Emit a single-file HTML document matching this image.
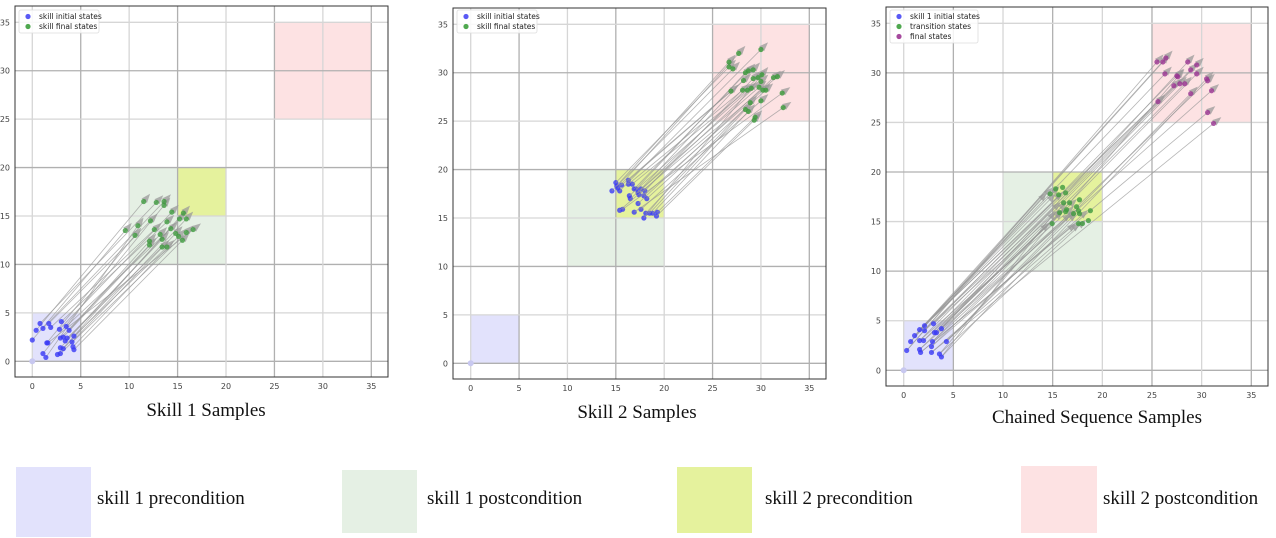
<!DOCTYPE html>
<html><head><meta charset="utf-8">
<style>
body{margin:0;background:#fff;width:1276px;height:538px;overflow:hidden;position:relative;font-family:"Liberation Serif",serif}
svg{position:absolute;left:0;top:0}
.title{position:absolute;font-size:19px;color:#111;white-space:nowrap;transform:translateX(-50%)}
.sw{position:absolute}
.lt{position:absolute;font-size:19px;color:#111;white-space:nowrap}
</style></head><body>
<svg id="chart" width="1276" height="400"></svg>
<div class="title" style="left:206px;top:400px">Skill 1 Samples</div>
<div class="title" style="left:637px;top:402px">Skill 2 Samples</div>
<div class="title" style="left:1097px;top:407px">Chained Sequence Samples</div>
<div class="sw" style="left:16px;top:467px;width:75px;height:70px;background:#e2e2fc"></div>
<div class="lt" style="left:97px;top:488px">skill 1 precondition</div>
<div class="sw" style="left:342px;top:470px;width:75px;height:63px;background:#e5f0e4"></div>
<div class="lt" style="left:427px;top:488px">skill 1 postcondition</div>
<div class="sw" style="left:677px;top:467px;width:75px;height:66px;background:#e5f29d"></div>
<div class="lt" style="left:765px;top:488px">skill 2 precondition</div>
<div class="sw" style="left:1021px;top:466px;width:76px;height:67px;background:#fde2e3"></div>
<div class="lt" style="left:1103px;top:488px">skill 2 postcondition</div>
<script>
// Panel 1 data
const p1InitX=[0,0.4,0.8,1.1,1.1,1.4,1.5,1.7,1.9,3.0,2.8,3.5,3.8,2.9,3.2,3.4,3.6,4.3,4.1,4.2,4.3,2.9,3.2,2.6,2.9,1.6];
const p1InitY=[2.2,3.2,3.9,3.4,0.8,0.4,1.9,3.9,3.5,4.1,3.3,3.6,3.2,2.4,2.5,2.1,2.4,2.6,2.0,1.5,1.2,1.4,1.3,0.7,0.8,1.9];
const p1FinX=[9.6,11.5,12.8,13.6,13.6,10.9,10.6,12.2,12.6,13.9,14.4,14.3,12.1,12.1,13.2,13.4,13.4,13.9,14.8,15.1,15.5,15.2,15.9,15.6,15.9,16.6];
const p1FinY=[13.5,16.5,16.4,16.5,16.1,14.0,13.0,14.5,13.6,14.4,15.4,13.7,12.4,12.0,13.1,12.6,11.8,11.8,13.2,12.9,12.5,14.7,14.7,15.3,13.3,13.6];
// Panel 2 data
const p2InitX=[14.6,15.0,15.1,15.2,15.4,15.6,16.3,16.3,16.7,17.1,16.9,17.6,18.0,17.3,17.4,16.4,16.5,17.9,18.2,17.3,15.4,15.7,16.9,17.6,18.1,18.5,18.8,19.3,19.2,17.9];
const p2InitY=[17.8,18.65,18.3,18.1,17.8,18.4,18.9,18.5,18.5,18.0,18.0,18.0,17.8,17.6,17.4,17.3,17.0,17.3,17.0,16.5,15.8,15.9,15.6,15.9,15.5,15.5,15.5,15.6,15.2,15.0];
const p2FinX=[26.7,26.7,27.1,27.7,30.0,26.9,28.2,28.1,28.6,28.4,28.7,29.2,29.2,29.7,30.0,29.0,29.8,30.2,30.5,31.3,31.7,32.2,32.3,30.0,28.9,28.4,28.7,29.4,29.3,30.1];
const p2FinY=[31.1,30.6,30.4,32.0,32.4,28.1,29.2,28.2,28.2,30.0,30.2,30.3,29.4,29.5,29.1,28.4,28.5,28.2,28.2,29.5,29.6,27.9,26.4,27.1,26.9,26.2,26.0,25.4,25.1,29.8];
// Panel 3 data
const p3InitX=[0.3,0.7,1.1,1.6,2.1,2.1,3.0,3.1,3.3,3.8,1.6,2.0,2.9,4.3,2.8,1.6,1.7,2.8,3.6,3.8];
const p3InitY=[2.0,2.9,3.5,4.1,4.5,4.0,4.7,3.8,3.8,4.2,3.0,3.0,2.9,2.9,2.4,2.1,1.8,1.8,1.65,1.35];
const p3TransX=[14.75,15.3,15.6,16.0,16.3,16.1,16.7,16.3,16.4,17.1,17.4,17.7,17.6,17.7,18.8,14.95,17.6,18.0,18.6,15.7];
const p3TransY=[17.8,18.3,17.7,18.45,17.9,16.9,16.9,16.0,16.2,15.8,16.5,17.2,16.1,15.8,16.1,14.8,14.8,14.8,15.1,15.9];
const p3FinX=[25.5,26.1,26.4,26.3,25.6,27.2,27.5,27.8,28.3,28.6,28.9,29.5,29.5,28.9,30.6,31.0,30.6,31.2,27.6,30.5];
const p3FinY=[31.1,31.1,31.5,29.9,27.1,28.7,29.7,28.9,28.9,31.1,30.3,30.8,29.9,27.9,29.2,28.2,26.0,24.9,29.6,29.4];
const ticks=[0,5,10,15,20,25,30,35];

const NS="http://www.w3.org/2000/svg";
const svg=document.getElementById('chart');
function mk(tag,attrs,parent){const e=document.createElementNS(NS,tag);for(const k in attrs)e.setAttribute(k,attrs[k]);(parent||svg).appendChild(e);return e;}

function panel(cfg){
  const g=mk('g',{});
  
  
  const sx=v=>cfg.x0+(cfg.x35-cfg.x0)*v/35;
  const sy=v=>cfg.y0+(cfg.y35-cfg.y0)*v/35;
  const regions=[[0,0,5,5,'#e2e2fc','region-skill1-pre'],[10,10,20,20,'#e5f0e4','region-skill1-post'],[15,15,20,20,'#e5f29d','region-skill2-pre'],[25,25,35,35,'#fde2e3','region-skill2-post']];
  regions.forEach(r=>{
    const e=mk('rect',{x:sx(r[0]),y:sy(r[3]),width:sx(r[2])-sx(r[0]),height:sy(r[1])-sy(r[3]),fill:r[4]},g);
    
    
  });
  ticks.forEach(t=>{
    const dark=(t%10===5);
    const vl=mk('line',{x1:sx(t),x2:sx(t),y1:cfg.top,y2:cfg.bot,stroke:dark?'#b0b0b0':'#d6d6d6','stroke-width':1.3},g);
    
    
    const hl=mk('line',{x1:cfg.left,x2:cfg.right,y1:sy(t),y2:sy(t),stroke:dark?'#d6d6d6':'#b0b0b0','stroke-width':1.3},g);
    
    
    const tx=mk('text',{x:sx(t),y:cfg.bot+12,'font-size':8,'text-anchor':'middle',fill:'#444','font-family':'DejaVu Sans, sans-serif'},g);
    tx.textContent=t;
    
    
    const ty=mk('text',{x:cfg.left-5,y:sy(t)+3,'font-size':8,'text-anchor':'end',fill:'#444','font-family':'DejaVu Sans, sans-serif'},g);
    ty.textContent=t;
    
    
  });
  const fr=mk('rect',{x:cfg.left,y:cfg.top,width:cfg.right-cfg.left,height:cfg.bot-cfg.top,fill:'none',stroke:'#333','stroke-width':1},g);
  
  
  const o=mk('circle',{cx:sx(0),cy:sy(0),r:3,fill:'#c8c8f0'},g);
  
  
  function arrow(ax,ay,bx,by){
    const x1=sx(ax),y1=sy(ay),x2=sx(bx),y2=sy(by);
    const dx=x2-x1,dy=y2-y1,L=Math.hypot(dx,dy),ux=dx/L,uy=dy/L;
    const tx=x2+ux*10,ty=y2+uy*10;
    const l=mk('line',{x1:x1,y1:y1,x2:tx-ux*7,y2:ty-uy*7,stroke:'#959595','stroke-opacity':0.7,'stroke-width':0.8},g);
    
    
    const bxp=tx-ux*9,byp=ty-uy*9;
    const h=mk('polygon',{points:`${tx},${ty} ${bxp-uy*3.5},${byp+ux*3.5} ${bxp+uy*3.5},${byp-ux*3.5}`,fill:'#9a9a9a','fill-opacity':0.75},g);
    
    
  }
  function pts(p){
    for(let i=0;i<p[0].length;i++){
      const c=mk('circle',{cx:sx(p[0][i]),cy:sy(p[1][i]),r:2.6,fill:p[2],'fill-opacity':p[3]},g);
      
      
    }
  }
  (cfg.before||[]).forEach(pts);
  cfg.arrows.forEach(a=>{for(let i=0;i<a[0].length;i++)arrow(a[0][i],a[1][i],a[2][i],a[3][i]);});
  cfg.points.forEach(pts);
  const lg=mk('rect',{x:cfg.lx,y:cfg.ly,width:cfg.lw,height:cfg.labels.length*10+3,fill:'#fff','fill-opacity':0.85,stroke:'#ddd','stroke-width':0.8,rx:2},g);
  
  
  cfg.labels.forEach((lab,i)=>{
    const d=mk('circle',{cx:cfg.lx+9,cy:cfg.ly+6.5+i*10,r:2.6,fill:lab[1]},g);
    
    
    const t=mk('text',{x:cfg.lx+20,y:cfg.ly+9+i*10,'font-size':7.5,fill:'#222','font-family':'DejaVu Sans, sans-serif'},g);
    t.textContent=lab[0];
    
    
  });
}
const BLUE='#3a3af5',GREEN='#3f9a3f',PURPLE='#993391';
panel({name:'skill-1-panel',left:15,right:388,top:6,bot:377,x0:32.3,x35:371.3,y0:361.3,y35:22.3,
  arrows:[[p1InitX,p1InitY,p1FinX,p1FinY]],
  points:[[p1InitX,p1InitY,BLUE,0.8,'initial-state-point'],[p1FinX,p1FinY,GREEN,0.8,'final-state-point']],
  lx:19,ly:10,lw:80,labels:[['skill initial states','#5a5af5'],['skill final states','#4fa84f']]});
panel({name:'skill-2-panel',left:453,right:826,top:8,bot:379,x0:470.7,x35:809.3,y0:363.3,y35:24.3,
  before:[[p2InitX,p2InitY,BLUE,0.8,'initial-state-point']],
  arrows:[[p2InitX,p2InitY,p2FinX,p2FinY]],
  points:[[p2FinX,p2FinY,GREEN,0.85,'final-state-point']],
  lx:457,ly:10,lw:80,labels:[['skill initial states','#5a5af5'],['skill final states','#4fa84f']]});
panel({name:'chained-panel',left:886,right:1268,top:7,bot:386,x0:903.7,x35:1251.3,y0:370.3,y35:23.3,
  arrows:[[p3InitX,p3InitY,p3TransX.map(v=>v-1),p3TransY.map(v=>v-0.6)],[p3InitX,p3InitY,p3FinX,p3FinY]],
  points:[[p3InitX,p3InitY,BLUE,0.8,'initial-state-point'],[p3TransX,p3TransY,GREEN,0.8,'transition-state-point'],[p3FinX,p3FinY,PURPLE,0.8,'final-state-point']],
  lx:890,ly:10,lw:88,labels:[['skill 1 initial states','#5a5af5'],['transition states','#4fa84f'],['final states','#a64a9e']]});
</script>
</body></html>
